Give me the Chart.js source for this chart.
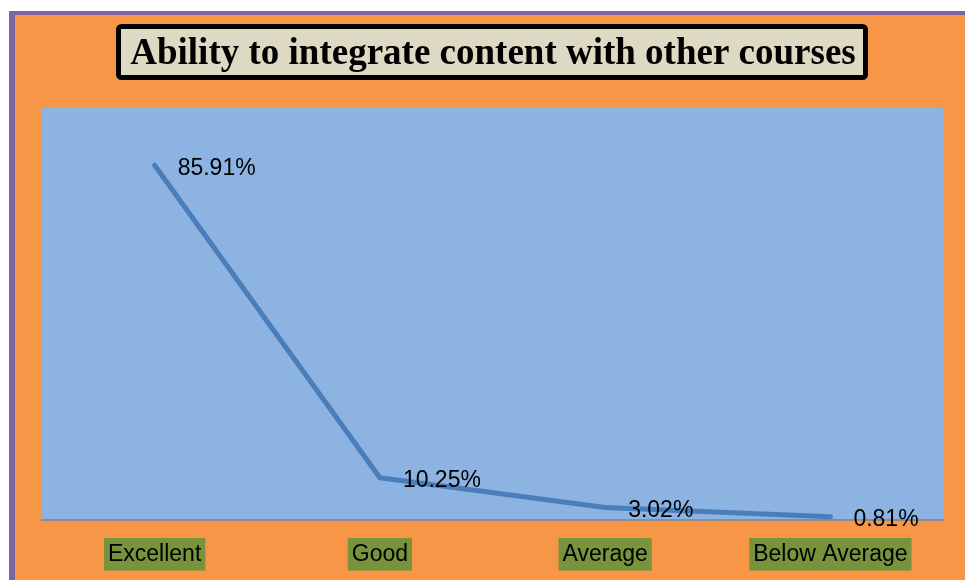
<!DOCTYPE html>
<html>
<head>
<meta charset="utf-8">
<script src="https://cdn.jsdelivr.net/npm/chart.js@4/dist/chart.umd.min.js"></script>
<style>
  body { margin: 0; background: #ffffff; }
  canvas { display: block; }
</style>
</head>
<body>
<canvas id="canvas" width="965" height="580"></canvas>
<script>
var categories = ['Excellent', 'Good', 'Average', 'Below Average'];
var percentages = [85.91, 10.25, 3.02, 0.81];
var chartTitle = 'Ability to integrate content with other courses';

// background, frame and title box
var framePlugin = {
    id: 'frame',
    beforeDraw: function(chart) {
        var ctx = chart.ctx;
        var area = chart.chartArea;
        ctx.save();
        ctx.fillStyle = '#ffffff';
        ctx.fillRect(0, 0, chart.width, chart.height);
        ctx.fillStyle = '#8064A2';
        ctx.fillRect(9, 11, chart.width - 9, chart.height - 11);
        ctx.fillStyle = '#F79646';
        ctx.fillRect(15, 15, chart.width - 15, chart.height - 15);
        ctx.fillStyle = '#8DB3E2';
        ctx.fillRect(area.left, area.top, area.right - area.left, area.bottom - area.top);

        // title box
        ctx.beginPath();
        ctx.roundRect(118.5, 26.5, 747, 51, 3);
        ctx.fillStyle = '#DDD9C3';
        ctx.fill();
        ctx.lineWidth = 5;
        ctx.strokeStyle = '#000000';
        ctx.stroke();
        ctx.fillStyle = '#000000';
        ctx.font = 'bold 37px "Liberation Serif", "Times New Roman", serif';
        ctx.textAlign = 'center';
        ctx.textBaseline = 'middle';
        ctx.fillText(chartTitle, 493, 54);
        ctx.restore();
    }
};

// value labels to the right of each point
var valueLabels = {
    id: 'valueLabels',
    afterDatasetsDraw: function(chart) {
        var ctx = chart.ctx;
        var meta = chart.getDatasetMeta(0);
        ctx.save();
        ctx.fillStyle = '#000000';
        ctx.font = '23px "Liberation Sans", Arial, sans-serif';
        ctx.textAlign = 'left';
        ctx.textBaseline = 'middle';
        meta.data.forEach(function(pt, i) {
            ctx.fillText(percentages[i].toFixed(2) + '%', pt.x + 23, pt.y + 3);
        });
        ctx.restore();
    }
};

var ctx = document.getElementById('canvas').getContext('2d');
window.myLine = new Chart(ctx, {
    type: 'line',
    data: {
        labels: categories,
        datasets: [{
            label: 'Ability',
            data: percentages,
            borderColor: '#4A7EBB',
            borderWidth: 5,
            borderCapStyle: 'round',
            borderJoinStyle: 'round',
            pointRadius: 0,
            tension: 0,
            fill: false
        }]
    },
    options: {
        responsive: false,
        animation: false,
        layout: {
            padding: { left: 42, right: 22, top: 107, bottom: 0 }
        },
        plugins: {
            legend: { display: false },
            title: { display: false },
            tooltip: { enabled: false }
        },
        scales: {
            x: {
                offset: true,
                grid: { display: false, drawTicks: false },
                border: { display: true, color: '#8C8C8C', width: 2 },
                afterFit: function(scale) { scale.height = 60; },
                ticks: {
                    color: '#000000',
                    padding: 21,
                    maxRotation: 0,
                    autoSkip: false,
                    font: { family: '"Liberation Sans", Arial, sans-serif', size: 23, lineHeight: 1.2 },
                    showLabelBackdrop: true,
                    backdropColor: '#77933C',
                    backdropPadding: { top: 3, bottom: 2, left: 4, right: 4 }
                }
            },
            y: {
                display: false,
                min: 0,
                max: 100
            }
        }
    },
    plugins: [framePlugin, valueLabels]
});
</script>
</body>
</html>
